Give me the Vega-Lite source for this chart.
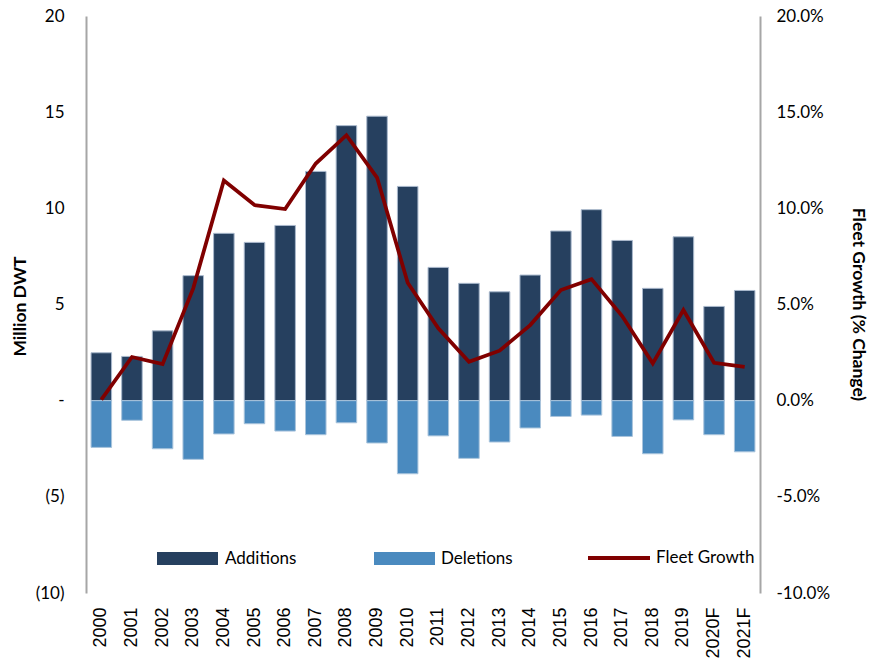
{
  "$schema": "https://vega.github.io/schema/vega-lite/v6.json",
  "autosize": "none",
  "width": 674,
  "height": 577,
  "padding": {"left": 86, "top": 16, "right": 110, "bottom": 68},
  "background": "white",
  "config": {
    "view": {"stroke": null},
    "axis": {"grid": false, "labelColor": "#000000", "titleColor": "#000000"},
    "legend": {"padding": 0, "labelFont": "Lato", "labelFontSize": 17, "labelColor": "#000000", "orient": "none", "title": null}
  },
  "data": {
    "values": [
      {"year": "2000", "additions": 2.49, "deletions": -2.43, "growth": 0.0005},
      {"year": "2001", "additions": 2.3, "deletions": -1.02, "growth": 0.0227},
      {"year": "2002", "additions": 3.63, "deletions": -2.5, "growth": 0.019},
      {"year": "2003", "additions": 6.5, "deletions": -3.05, "growth": 0.0584},
      {"year": "2004", "additions": 8.7, "deletions": -1.73, "growth": 0.1145},
      {"year": "2005", "additions": 8.23, "deletions": -1.2, "growth": 0.1017},
      {"year": "2006", "additions": 9.11, "deletions": -1.58, "growth": 0.0996},
      {"year": "2007", "additions": 11.92, "deletions": -1.77, "growth": 0.1233},
      {"year": "2008", "additions": 14.3, "deletions": -1.15, "growth": 0.138},
      {"year": "2009", "additions": 14.79, "deletions": -2.2, "growth": 0.116},
      {"year": "2010", "additions": 11.14, "deletions": -3.8, "growth": 0.0613},
      {"year": "2011", "additions": 6.93, "deletions": -1.83, "growth": 0.0376},
      {"year": "2012", "additions": 6.1, "deletions": -3.0, "growth": 0.0202},
      {"year": "2013", "additions": 5.66, "deletions": -2.15, "growth": 0.026},
      {"year": "2014", "additions": 6.53, "deletions": -1.42, "growth": 0.0393},
      {"year": "2015", "additions": 8.82, "deletions": -0.82, "growth": 0.0575},
      {"year": "2016", "additions": 9.93, "deletions": -0.75, "growth": 0.0632},
      {"year": "2017", "additions": 8.33, "deletions": -1.86, "growth": 0.044},
      {"year": "2018", "additions": 5.84, "deletions": -2.76, "growth": 0.0194},
      {"year": "2019", "additions": 8.52, "deletions": -1.0, "growth": 0.0471},
      {"year": "2020F", "additions": 4.9, "deletions": -1.77, "growth": 0.0197},
      {"year": "2021F", "additions": 5.73, "deletions": -2.66, "growth": 0.0176}
    ]
  },
  "encoding": {
    "x": {
      "field": "year",
      "type": "ordinal",
      "sort": null,
      "scale": {"paddingInner": 0.33, "paddingOuter": 0.165},
      "axis": {
        "title": null,
        "domain": false,
        "ticks": false,
        "labelAngle": -90,
        "labelPadding": 14,
        "labelFont": "Liberation Sans",
        "labelFontSize": 18,
        "labelColor": "#000000"
      }
    }
  },
  "layer": [
    {
      "mark": {"type": "bar", "stroke": "#a9b8cc", "strokeWidth": 1},
      "encoding": {
        "y": {
          "field": "additions",
          "type": "quantitative",
          "scale": {"domain": [-10, 20], "nice": false, "zero": false},
          "axis": {
            "orient": "left",
            "values": [-10, -5, 0, 5, 10, 15, 20],
            "labelExpr": "datum.value == 0 ? '-\u00a0' : (datum.value < 0 ? '(' + abs(datum.value) + ')' : datum.label + '\u00a0')",
            "ticks": false,
            "domainColor": "#a6a6a6",
            "domainWidth": 2,
            "labelPadding": 22,
            "labelFont": "Lato",
            "labelFontSize": 17,
            "title": "Million DWT",
            "titleFont": "Lato",
            "titleFontSize": 17.5,
            "titleFontWeight": "bold",
            "titleAngle": -90,
            "titleAlign": "center",
            "titleBaseline": "bottom",
            "titleX": -57,
            "titleY": 290
          }
        },
        "color": {
          "datum": "Additions",
          "type": "nominal",
          "scale": {"range": ["#26405f"]},
          "legend": {
            "legendX": 71,
            "legendY": 512,
            "symbolType": "M-1,-0.213L1,-0.213L1,0.213L-1,0.213Z",
            "symbolSize": 3721,
            "symbolStrokeWidth": 0,
            "symbolOpacity": 1,
            "labelOffset": 7
          }
        }
      }
    },
    {
      "mark": {"type": "bar", "stroke": "#a9c4dc", "strokeWidth": 1},
      "encoding": {
        "y": {
          "field": "deletions",
          "type": "quantitative",
          "scale": {"domain": [-10, 20], "nice": false, "zero": false},
          "axis": null
        },
        "color": {
          "datum": "Deletions",
          "type": "nominal",
          "scale": {"range": ["#4a8abf"]},
          "legend": {
            "legendX": 288,
            "legendY": 512,
            "symbolType": "M-1,-0.213L1,-0.213L1,0.213L-1,0.213Z",
            "symbolSize": 3721,
            "symbolStrokeWidth": 0,
            "symbolOpacity": 1,
            "labelOffset": 6
          }
        }
      }
    },
    {
      "mark": {"type": "rule", "color": "#8c8c8c", "strokeWidth": 2},
      "encoding": {
        "y": {"datum": 0, "type": "quantitative", "scale": {"domain": [-10, 20], "nice": false, "zero": false}, "axis": null}
      }
    },
    {
      "mark": {"type": "line", "strokeWidth": 3.75, "strokeJoin": "miter"},
      "encoding": {
        "y": {
          "field": "growth",
          "type": "quantitative",
          "scale": {"domain": [-0.1, 0.2], "nice": false, "zero": false},
          "axis": {
            "orient": "right",
            "values": [-0.1, -0.05, 0, 0.05, 0.1, 0.15, 0.2],
            "labelExpr": "(datum.value < 0 ? '-' : '') + format(abs(datum.value), '.1%')",
            "ticks": false,
            "domainColor": "#a6a6a6",
            "domainWidth": 2,
            "labelPadding": 16,
            "labelFont": "Lato",
            "labelFontSize": 17,
            "title": "Fleet Growth (% Change)",
            "titleFont": "Lato",
            "titleFontSize": 17.5,
            "titleFontWeight": "bold",
            "titleAngle": 90,
            "titleAlign": "center",
            "titleBaseline": "bottom",
            "titleX": 88,
            "titleY": 288
          }
        },
        "color": {
          "datum": "Fleet Growth",
          "type": "nominal",
          "scale": {"range": ["#800000"]},
          "legend": {
            "legendX": 500,
            "legendY": 509,
            "symbolType": "stroke",
            "symbolSize": 3844,
            "symbolStrokeWidth": 4,
            "labelOffset": 4
          }
        }
      }
    }
  ],
  "resolve": {"scale": {"y": "independent", "color": "independent"}}
}
